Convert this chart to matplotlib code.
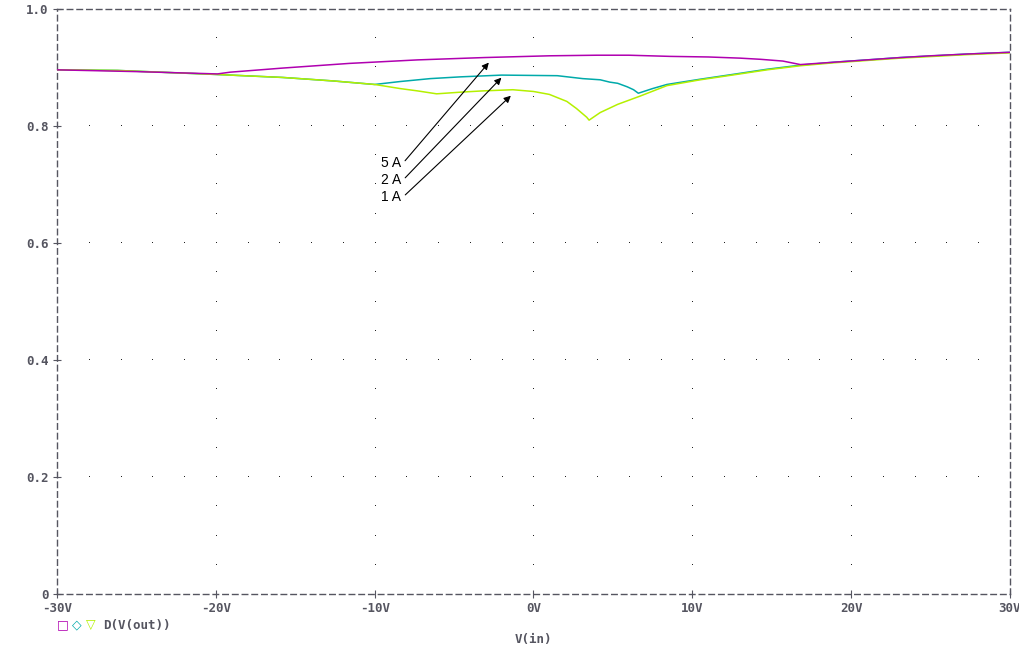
import numpy as np
import matplotlib.pyplot as plt

# shared part of all three curves (-30V .. -10V)
common_x = [-30, -26.2, -19.9, -15.8, -12.6, -10.0]
common_y = [0.896, 0.895, 0.888, 0.883, 0.877, 0.871]

# 5 A (magenta)
i5_x = [-30, -25, -19.9, -19.1, -15.8, -11.6, -7.3, -3.1, 1.0, 4.0, 6.0, 8.6, 11.0, 13.0, 14.3, 15.7, 16.8,
        18.9, 21.0, 23.1, 25.0, 27.3, 30.0]
i5_y = [0.896, 0.893, 0.889, 0.892, 0.899, 0.907, 0.913, 0.917, 0.920, 0.921, 0.921, 0.919, 0.918, 0.916,
        0.914, 0.911, 0.905, 0.909, 0.913, 0.917, 0.920, 0.923, 0.926]

# 2 A (cyan)
i2_x = [-8.4, -6.5, -4.6, -2.0, 1.5, 3.1, 4.2, 4.8, 5.3, 5.9, 6.3, 6.6, 7.5, 8.4, 10.5, 12.5, 14.7, 16.8,
        18.9, 21.0, 23.1, 27.3, 30.0]
i2_y = [0.876, 0.881, 0.884, 0.887, 0.886, 0.881, 0.879, 0.875, 0.873, 0.867, 0.862, 0.856, 0.864, 0.871,
        0.880, 0.888, 0.897, 0.904, 0.909, 0.913, 0.917, 0.923, 0.926]

# 1 A (yellow-green)
i1_x = [-8.4, -7.3, -6.1, -4.5, -3.2, -1.3, 0.0, 1.0, 2.1, 2.7, 3.35, 3.5, 4.2, 5.3, 6.7, 8.4, 10.5, 12.5,
        14.7, 16.8, 18.9, 21.0, 23.1, 27.3, 30.0]
i1_y = [0.864, 0.860, 0.855, 0.858, 0.860, 0.862, 0.859, 0.854, 0.842, 0.830, 0.815, 0.810, 0.823, 0.837,
        0.851, 0.869, 0.879, 0.887, 0.896, 0.903, 0.908, 0.912, 0.916, 0.922, 0.925]

# annotation arrows: label, tail (x, y), tip (x, y)
labels = ['5 A', '2 A', '1 A']
tails = [(-8.2, 0.737), (-8.2, 0.708), (-8.2, 0.679)]
tips = [(-2.7, 0.912), (-1.9, 0.886), (-1.3, 0.855)]

xticks = [-30, -20, -10, 0, 10, 20, 30]
xticklabels = ['-30V', '-20V', '-10V', '0V', '10V', '20V', '30V']
yticks = [0, 0.2, 0.4, 0.6, 0.8, 1.0]
yticklabels = ['0', '0.2', '0.4', '0.6', '0.8', '1.0']

c5 = '#b000b0'
c2 = '#00aaaa'
c1 = '#b4f000'
frame = '#555560'

fig = plt.figure(figsize=(10.2, 6.47), dpi=100)
ax = fig.add_axes([57 / 1020, 53 / 647, 953 / 1020, 585 / 647])

ax.plot(common_x + i1_x, common_y + i1_y, color=c1, lw=1.1, zorder=3)
ax.plot(common_x + i2_x, common_y + i2_y, color=c2, lw=1.1, zorder=2)
ax.plot(i5_x, i5_y, color=c5, lw=1.1, zorder=4)

# dotted grid like the PSpice probe window
for gy in yticks[1:-1]:
    gx = np.arange(-28, 30, 2)
    ax.plot(gx, [gy] * len(gx), ls='none', marker=',', color='#222222', zorder=1)
for gx in xticks[1:-1]:
    gy = np.arange(0.05, 1.0, 0.05)
    ax.plot([gx] * len(gy), gy, ls='none', marker=',', color='#222222', zorder=1)

for lab, t, p in zip(labels, tails, tips):
    ax.annotate('', xy=p, xytext=t,
                arrowprops=dict(arrowstyle='-|>', color='black', lw=0.8, mutation_scale=10))
    ax.text(t[0] - 0.15, t[1], lab, ha='right', va='center', fontsize=10,
            family='Liberation Sans', color='black')

ax.set_xlim(-30, 30)
ax.set_ylim(0, 1.0)
ax.set_xticks(xticks)
ax.set_xticklabels(xticklabels)
ax.set_yticks(yticks)
ax.set_yticklabels(yticklabels)
for s in ax.spines.values():
    s.set_linestyle((0, (4, 3)))
    s.set_color(frame)
    s.set_linewidth(1.0)
ax.tick_params(direction='inout', length=6, color=frame, labelcolor=frame, pad=3)
for lb in ax.get_xticklabels() + ax.get_yticklabels():
    lb.set_family('DejaVu Sans Mono')
    lb.set_fontweight('bold')
    lb.set_fontsize(9)

# legend row and x label
fig.text(57 / 1020, 1 - 625 / 647, '\u25a1', color=c5, fontsize=9, va='center', ha='left',
         family='DejaVu Sans')
fig.text(72 / 1020, 1 - 625 / 647, '\u25c7', color=c2, fontsize=9, va='center', ha='left',
         family='DejaVu Sans')
fig.text(86 / 1020, 1 - 625 / 647, '\u25bd', color=c1, fontsize=9, va='center', ha='left',
         family='DejaVu Sans')
fig.text(103 / 1020, 1 - 625 / 647, 'D(V(out))', color=frame, fontsize=9, va='center', ha='left',
         family='DejaVu Sans Mono', fontweight='bold')
fig.text(533 / 1020, 1 - 639 / 647, 'V(in)', color=frame, fontsize=9, va='center', ha='center',
         family='DejaVu Sans Mono', fontweight='bold')

fig.savefig('out.png', dpi=100, facecolor='white')
